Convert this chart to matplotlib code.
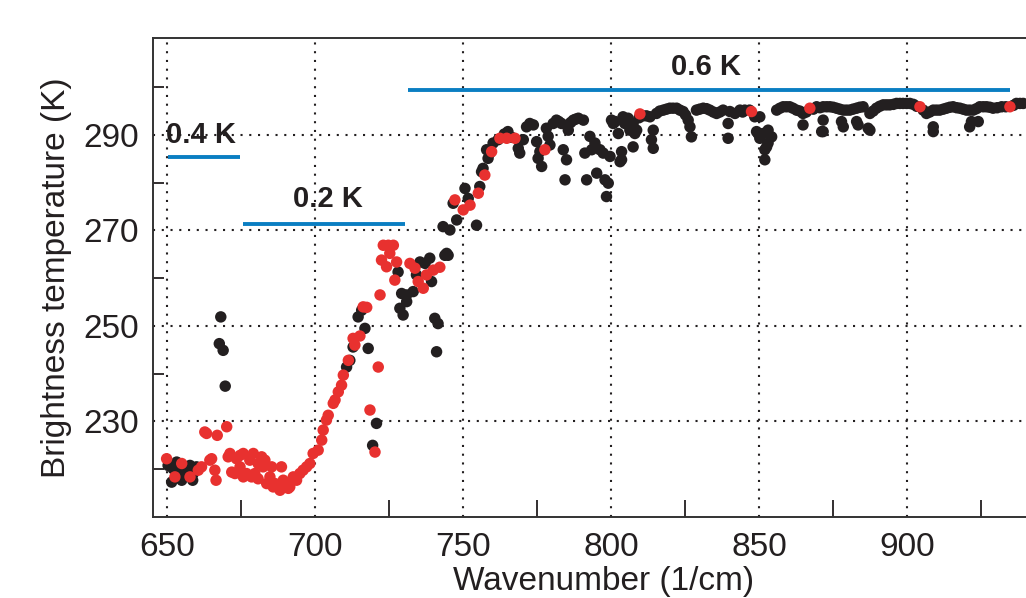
import matplotlib
matplotlib.use('Agg')
import matplotlib.pyplot as plt
from matplotlib.ticker import MultipleLocator

plt.rcParams['font.family'] = ['Liberation Sans', 'DejaVu Sans']

# black: full set of channels
black_wn = [650.4, 651.6, 652.1, 653.3, 653.5, 654.2, 655.0, 656.1, 657.8, 658.7, 658.9, 660.0,
            668.2, 667.7, 669.0, 669.7,
            710.7, 711.8, 712.9, 714.6, 715.8, 716.9, 718.0, 720.8, 719.5,
            728.1, 729.3, 731.0, 733.2, 731.0, 728.7, 729.8, 734.3, 735.5, 737.2, 738.8, 739.4,
            740.5, 741.6, 741.1, 743.9, 744.5, 745.0, 745.6, 743.3, 747.9,
            746.7, 750.7, 751.8, 754.6, 755.7, 756.3, 756.8, 758.0, 759.1, 758.5, 760.2, 761.9,
            765.2, 768.7, 769.2, 770.4, 771.5, 772.6, 773.8, 774.9, 776.0, 775.4, 776.6, 778.2,
            778.8, 779.4, 780.5, 781.6, 783.3, 783.9, 785.0, 784.5, 785.6, 787.3, 789.0, 790.7,
            791.2, 791.8, 792.9, 793.5, 794.6, 795.2, 796.3, 797.4, 798.0, 798.5, 799.1, 799.7,
            800.2, 800.8, 802.5, 803.1, 803.6, 804.1, 804.7, 805.8, 806.4, 807.5, 808.1, 808.7,
            803.6, 807.5, 813.2, 814.3, 813.7, 814.3, 815.4, 817.7, 819.9, 822.2, 824.4, 826.1,
            826.7, 827.2, 828.9, 831.2, 833.4, 835.7, 837.9, 839.6, 839.6, 840.2, 841.9, 843.6,
            845.2, 848.6, 849.2, 849.7, 850.3, 850.3, 851.4, 852.0, 852.0, 852.6, 853.1, 853.1,
            854.3, 856.0, 858.2, 860.4, 862.7, 864.9, 864.9, 869.5, 871.2, 871.7, 871.7, 871.7,
            874.0, 876.2, 877.9, 878.5, 878.5, 880.7, 883.0, 883.0, 883.5, 885.2, 886.9, 887.5,
            887.5, 889.7, 892.0, 894.2, 896.5, 898.7, 901.0, 906.6, 908.9, 908.9, 908.9, 911.1,
            913.4, 915.6, 917.9, 920.1, 921.2, 921.8, 922.4, 924.1, 924.6, 926.9, 929.1, 932.0,
            937.0, 939.3, 942.0,
            812.0, 816.5, 818.8, 821.0, 823.3, 825.2, 830.0, 832.3, 834.6, 836.8, 844.5, 846.8,
            857.1, 859.3, 861.5, 863.8, 866.0, 868.4, 870.6, 872.9, 875.1, 877.3, 879.6, 881.8,
            884.1, 888.6, 890.8, 893.1, 895.4, 897.6, 899.9, 902.2, 903.3, 905.5, 907.7, 910.0,
            912.3, 914.5, 916.8, 919.0, 921.2, 923.5, 925.8, 928.0, 930.5, 933.4, 936.0, 938.2,
            764.0, 766.5, 782.4, 786.4, 788.1, 801.5, 809.5, 810.8]
black_tb = [220.8, 217.3, 220.1, 221.5, 219.4, 218.6, 217.7, 219.8, 220.8, 217.7, 219.1, 220.5,
            251.9, 246.3, 244.9, 237.4,
            241.4, 242.8, 245.6, 251.9, 253.3, 249.5, 245.3, 229.6, 225.0,
            261.3, 256.8, 256.5, 257.2, 255.1, 253.7, 252.3, 260.7, 263.4, 263.1, 264.2, 259.3,
            251.6, 250.5, 244.6, 264.8, 265.2, 264.8, 270.1, 270.8, 272.2,
            275.7, 278.8, 276.7, 271.1, 279.2, 282.3, 283.0, 286.9, 286.2, 285.1, 288.3, 289.0,
            290.7, 287.2, 286.2, 289.0, 291.7, 292.4, 292.1, 288.6, 286.5, 285.1, 283.4, 291.4,
            289.7, 287.9, 292.4, 293.1, 292.4, 286.9, 284.8, 280.6, 291.0, 293.1, 293.5, 293.1,
            286.2, 280.6, 289.7, 286.9, 288.3, 282.0, 286.9, 286.2, 280.6, 277.1, 279.9, 285.5,
            293.1, 292.4, 290.3, 284.4, 286.5, 293.8, 292.4, 293.5, 291.0, 292.4, 290.3, 291.0,
            284.8, 287.5, 293.8, 291.0, 289.0, 287.2, 294.5, 295.2, 295.6, 295.6, 294.9, 293.1,
            291.7, 289.6, 295.2, 295.6, 295.2, 294.5, 295.2, 292.4, 289.3, 294.9, 294.5, 295.2,
            295.2, 293.8, 290.7, 290.3, 293.8, 289.3, 290.3, 286.9, 284.8, 287.5, 291.0, 288.3,
            289.6, 295.2, 295.9, 295.9, 295.2, 294.5, 292.1, 295.9, 290.7, 295.9, 293.1, 290.7,
            295.9, 295.6, 292.8, 295.2, 291.7, 295.2, 295.6, 292.8, 292.1, 295.9, 291.4, 294.5,
            291.0, 295.6, 296.3, 296.3, 296.6, 296.6, 296.6, 294.5, 295.2, 291.7, 290.7, 295.2,
            295.6, 295.9, 295.6, 295.2, 291.7, 292.8, 295.2, 292.8, 295.9, 295.9, 295.6, 295.9,
            296.6, 296.6, 296.3,
            294.0, 295.0, 295.4, 295.6, 295.2, 294.2, 295.4, 295.5, 294.8, 294.8, 294.8, 295.2,
            295.6, 295.9, 295.6, 295.0, 294.8, 295.4, 295.7, 295.9, 295.8, 295.4, 295.2, 295.4,
            295.8, 295.0, 296.0, 296.3, 296.4, 296.6, 296.6, 296.4, 296.0, 295.2, 294.8, 295.2,
            295.4, 295.8, 295.7, 295.4, 295.2, 295.5, 295.9, 295.8, 295.7, 295.9, 296.2, 296.6,
            290.2, 289.5, 292.8, 292.6, 293.3, 292.8, 293.6, 294.0]

# red: selected channels
red_wn = [649.9, 652.7, 655.0, 657.8, 660.6, 661.7, 664.5, 665.1, 666.2, 666.6,
          662.8, 663.4, 667.0, 670.2, 670.7, 671.3, 671.9, 673.0, 673.5, 674.7, 674.7,
          675.8, 675.8, 676.9, 678.0, 678.6, 679.2, 679.7, 680.8, 680.8, 682.0, 682.5,
          683.1, 683.7, 684.8, 685.4, 685.9, 686.5, 687.6, 688.2, 688.7, 689.3, 690.4,
          691.0, 691.5, 692.7, 693.8, 694.9, 696.0, 697.2, 698.3, 699.4, 701.1, 702.3,
          702.8, 703.9, 704.5, 706.2, 706.8, 707.9, 709.0, 709.6, 711.3, 712.9, 713.5,
          715.2, 716.3, 717.5, 722.0, 718.6, 721.4, 720.3, 722.5, 723.1, 724.8, 726.5,
          725.3, 724.2, 727.6, 727.0, 732.1, 733.8, 734.9, 736.6, 737.7, 740.0, 742.2,
          747.3, 750.1, 752.4, 755.2, 757.4, 759.7, 762.5, 764.8, 767.6, 777.7,
          809.8, 847.5, 867.2, 904.4, 934.8]
red_tb = [222.2, 218.4, 221.2, 218.4, 219.8, 220.5, 221.9, 222.2, 219.8, 217.7,
          227.8, 227.5, 227.1, 228.9, 222.6, 223.3, 219.4, 219.1, 222.2, 220.5, 222.9,
          223.3, 218.4, 219.1, 221.9, 218.4, 223.3, 219.1, 221.2, 218.0, 222.6, 220.5,
          221.9, 217.0, 218.4, 220.5, 216.3, 217.0, 216.3, 215.6, 220.5, 217.7, 217.0,
          216.0, 216.3, 218.4, 217.7, 219.1, 219.8, 220.5, 221.2, 223.3, 224.0, 226.1,
          228.2, 230.3, 231.3, 233.8, 234.5, 236.2, 237.6, 239.7, 242.8, 247.4, 246.0,
          247.9, 254.0, 253.9, 256.5, 232.4, 241.4, 223.6, 263.8, 266.9, 266.9, 266.9,
          265.2, 262.4, 263.4, 259.6, 263.1, 262.1, 259.3, 257.9, 260.7, 261.7, 262.3,
          276.4, 274.3, 275.3, 277.8, 281.6, 286.5, 289.3, 289.3, 289.3, 286.9,
          294.4, 294.9, 295.6, 295.9, 295.9]

# noise levels per band
noise_labels = ['0.4 K', '0.2 K', '0.6 K']
noise_start = [650.3, 675.7, 731.4]
noise_end = [674.7, 730.4, 934.8]
noise_level = [285.4, 271.3, 299.4]

blue = '#0a7ec2'
fig = plt.figure(figsize=(10.26, 5.98), dpi=100)
ax = fig.add_axes([153/1026, 81/598, (950-645.3)*2.96/1026, 479/598])

ax.scatter(black_wn, black_tb, s=68, color='#231f20', edgecolors='none', zorder=3)
ax.scatter(red_wn, red_tb, s=68, color='#e8312f', edgecolors='none', zorder=4)

for lab, x0, x1, lev in zip(noise_labels, noise_start, noise_end, noise_level):
    ax.plot([x0, x1], [lev, lev], color=blue, lw=2.8, solid_capstyle='butt', zorder=2)

ax.text(649.8, 290.0, '0.4 K', fontsize=21, fontweight='bold',
        color='#231f20', ha='left', va='center', zorder=5)
ax.text(704.5, 276.6, '0.2 K', fontsize=21, fontweight='bold',
        color='#231f20', ha='center', va='center', zorder=5)
ax.text(832.0, 304.2, '0.6 K', fontsize=21, fontweight='bold',
        color='#231f20', ha='center', va='center', zorder=5)

ax.set_xlim(645.3, 950)
ax.set_ylim(210, 310.3)
ax.set_xticks([650, 700, 750, 800, 850, 900])
ax.xaxis.set_minor_locator(MultipleLocator(25))
ax.set_yticks([230, 250, 270, 290])
ax.yaxis.set_minor_locator(MultipleLocator(20))

ax.grid(True, which='major', color='#231f20', linestyle=(0, (1, 3.2)), lw=1.5)
ax.tick_params(which='major', length=0, labelsize=24, colors='#231f20', pad=11)
ax.tick_params(axis='y', which='major', pad=10)
ax.tick_params(which='minor', direction='in', color='#231f20', width=1.3)
ax.tick_params(axis='x', which='minor', length=12)
ax.tick_params(axis='y', which='minor', length=8)

for side in ['left', 'bottom', 'top', 'right']:
    ax.spines[side].set_color('#333333')
    ax.spines[side].set_linewidth(1.4)

ax.set_xlabel('Wavenumber (1/cm)', fontsize=24, color='#231f20', labelpad=2)
ax.set_ylabel('Brightness temperature (K)', fontsize=24, color='#231f20', labelpad=8)

fig.savefig('out.png', dpi=100)
